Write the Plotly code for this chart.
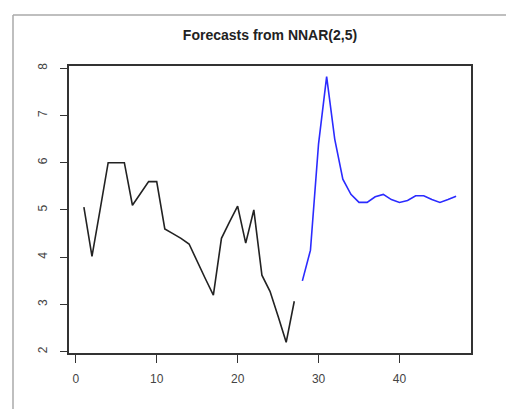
import plotly.graph_objects as go

# Observed series (black)
obs_x = list(range(1, 28))
obs_y = [5.06, 4.02, 5.0, 6.0, 6.0, 6.0, 5.1, 5.35, 5.6, 5.6, 4.6, 4.5, 4.4, 4.28,
         3.9, 3.55, 3.2, 4.4, 4.75, 5.08, 4.3, 5.0, 3.62, 3.28, 2.75, 2.2, 3.07]

# Forecast series (blue)
fc_x = list(range(28, 48))
fc_y = [3.5, 4.15, 6.4, 7.82, 6.5, 5.65, 5.33, 5.16, 5.16, 5.28, 5.33, 5.22,
        5.16, 5.2, 5.3, 5.3, 5.22, 5.16, 5.22, 5.29]

x_ticks = [0, 10, 20, 30, 40]
y_ticks = [2, 3, 4, 5, 6, 7, 8]
title_text = "Forecasts from NNAR(2,5)"

OFF = 8  # page body margin offset
W, H = 514 - OFF, 409 - OFF
L, R, T, B = 69 - OFF, 471 - OFF, 66 - OFF, 353 - OFF

fig = go.Figure()
fig.add_trace(go.Scatter(x=obs_x, y=obs_y, mode="lines",
                         line=dict(color="#222222", width=1.6), showlegend=False))
fig.add_trace(go.Scatter(x=fc_x, y=fc_y, mode="lines",
                         line=dict(color="#2b2bff", width=1.6), showlegend=False))

axis_font = dict(family="Liberation Sans, Arial, sans-serif", size=12, color="#444444")

fig.update_layout(
    width=W, height=H,
    margin=dict(l=L, r=W - R, t=T, b=H - B, pad=0),
    paper_bgcolor="white", plot_bgcolor="white",
    title=dict(text="<b>" + title_text + "</b>", x=(L + R) / 2 / W, xanchor="center",
               y=1 - (35 - OFF) / H, yanchor="middle",
               font=dict(family="Liberation Sans, Arial, sans-serif", size=14, color="#222222")),
    xaxis=dict(range=[-0.84, 48.84], tickvals=x_ticks, ticks="outside", ticklen=8,
               tickwidth=1.3, tickcolor="#333333", showgrid=False, zeroline=False,
               showline=True, linecolor="#333333", linewidth=1.6, mirror=True,
               tickfont=axis_font, ticklabelstandoff=6),
    yaxis=dict(range=[1.975, 8.045], tickvals=y_ticks, ticks="outside", ticklen=7,
               tickwidth=1.3, tickcolor="#333333", showgrid=False, zeroline=False,
               showline=True, linecolor="#333333", linewidth=1.6, mirror=True,
               tickangle=-90, tickfont=axis_font, ticklabelstandoff=8),
)

# light gray frame lines (top and left edges of the image frame)
pw, ph = R - L, B - T
def px_to_paper_x(px):
    return (px - OFF - L) / pw
def px_to_paper_y(py):
    return (B - (py - OFF)) / ph

fig.add_shape(type="line", xref="paper", yref="paper",
              x0=px_to_paper_x(13), x1=px_to_paper_x(514 + 5),
              y0=px_to_paper_y(15), y1=px_to_paper_y(15),
              line=dict(color="#aaaaaa", width=1.5))
fig.add_shape(type="line", xref="paper", yref="paper",
              x0=px_to_paper_x(13), x1=px_to_paper_x(13),
              y0=px_to_paper_y(15), y1=px_to_paper_y(409 + 5),
              line=dict(color="#aaaaaa", width=1.5))

fig.write_html("out.html")
